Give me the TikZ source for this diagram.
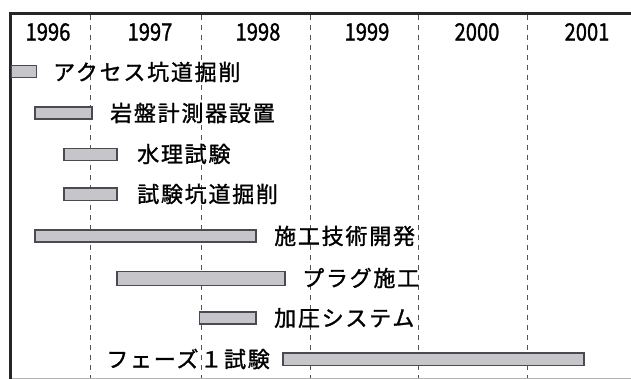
\documentclass[tikz,border=0pt]{standalone}
\usepackage{fontspec}
\newfontfamily\jp[LetterSpace=8,FakeBold=1.2]{Noto Sans CJK JP}
\newfontfamily\yr[FakeStretch=0.84,FakeBold=1.2]{Noto Sans CJK JP}
\definecolor{barfill}{HTML}{C6C6CA}
\definecolor{barline}{HTML}{4A4A52}
\definecolor{gridc}{HTML}{555555}
\tikzset{
  bar/.style={draw=barline, fill=barfill, line width=1.3pt},
  task/.style={inner sep=0pt, font=\jp\fontsize{22}{22}\selectfont, text=black},
  year/.style={inner sep=0pt, font=\yr\fontsize{24}{24}\selectfont, text=black},
  grid/.style={draw=gridc, line width=0.7pt, dash pattern=on 5pt off 5pt},
}
\begin{document}
\begin{tikzpicture}[x=1pt,y=-1pt]
\useasboundingbox (0,0) rectangle (631,379);
\fill[white] (0,0) rectangle (631,379);
% grid lines
\foreach \gx in {90,201,310,418,527} \draw[grid] (\gx,15) -- (\gx,379);
% frame
\draw[line width=0.6pt, draw=gray!60] (10,378.5) -- (631,378.5);
\draw[line width=3pt, draw=black!85] (631,13.5) -- (10,13.5) -- (10,379);
% years
\node[year] (y96) at (48,32) {1996};
\node[year] (y97) at (150,32) {1997};
\node[year] (y98) at (258,32) {1998};
\node[year] (y99) at (367,32) {1999};
\node[year] (y00) at (477,32) {2000};
\node[year] (y01) at (587,32) {2001};
% bars
\draw[bar] (11.5,65.5) rectangle (36.5,77.5);
\draw[bar] (35,107) rectangle (92,119);
\draw[bar] (64,148.5) rectangle (117,160.5);
\draw[bar] (64,188) rectangle (117,200.5);
\draw[bar] (35,230) rectangle (256,242);
\draw[bar] (117,271.5) rectangle (285,285.5);
\draw[bar] (199.5,312) rectangle (256,324);
\draw[bar] (283,353) rectangle (584,365.5);
% labels
\node[task, anchor=west] (t1) at (53,72) {アクセス坑道掘削};
\node[task, anchor=west] (t2) at (110,113) {岩盤計測器設置};
\node[task, anchor=west] (t3) at (137,154) {水理試験};
\node[task, anchor=west] (t4) at (137,194) {試験坑道掘削};
\node[task, anchor=west] (t5) at (274,236) {施工技術開発};
\node[task, anchor=west] (t6) at (302,278) {プラグ施工};
\node[task, anchor=west] (t7) at (274,318) {加圧システム};
\node[task, anchor=east] (t8) at (270,359) {フェーズ１試験};
\end{tikzpicture}
\end{document}
